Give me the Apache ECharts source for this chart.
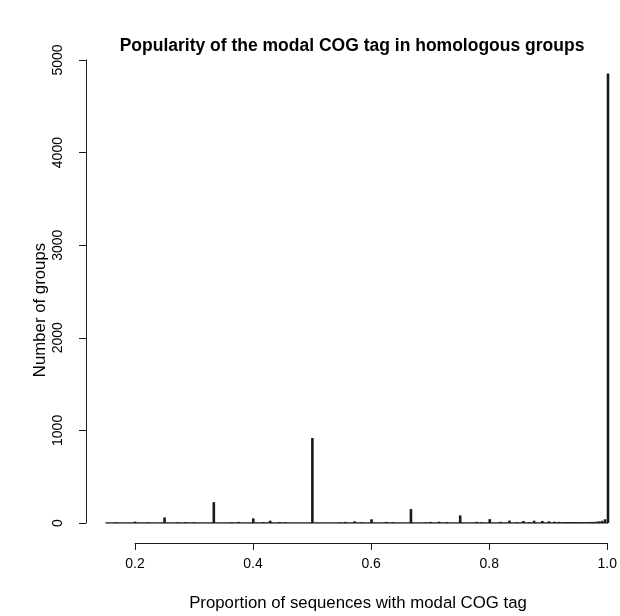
<!DOCTYPE html>
<html>
<head>
<meta charset="utf-8">
<script src="https://cdn.jsdelivr.net/npm/echarts@6/dist/echarts.min.js"></script>
<style>
html,body{margin:0;padding:0;background:#fff;}
#chart{width:620px;height:616px;}
</style>
</head>
<body>
<div id="chart"></div>
<script>
// ---- data ----
var proportions = [0.1667,0.2,0.2222,0.25,0.2727,0.2857,0.3,0.3333,0.3636,0.375,0.4,0.4167,0.4286,0.4444,0.4545,
  0.5,0.5455,0.5556,0.5714,0.5833,0.6,0.625,0.6364,0.6667,0.6923,0.7,0.7143,0.7273,0.75,0.7778,0.7857,
  0.8,0.8182,0.8333,0.8462,0.8571,0.8667,0.875,0.8889,0.9,0.9091,0.9167,0.9231,0.9286,0.9333,0.9375,
  0.9412,0.9444,0.95,0.955,0.96,0.965,0.97,0.975,0.98,0.985,0.99,0.995,1.0];
var counts = [8,15,8,60,8,10,8,225,6,12,50,10,25,10,6,
  918,6,12,18,8,40,12,8,150,8,12,14,10,82,12,8,
  42,12,26,8,22,10,25,22,18,14,12,10,10,10,10,
  10,10,10,10,10,10,12,12,14,18,24,40,4855];
var rangeStart = 0.15, rangeEnd = 1.0;
var xTicks = [0.2, 0.4, 0.6, 0.8, 1.0];
var yTicks = [0, 1000, 2000, 3000, 4000, 5000];

var titleText = 'Popularity of the modal COG tag in homologous groups';
var xLabel = 'Proportion of sequences with modal COG tag';
var yLabel = 'Number of groups';

// ---- chart ----
var ink = '#1a1a1a';
var font = 'Liberation Sans, Arial, Helvetica, sans-serif';
var barData = proportions.map(function(p, i){ return [p, counts[i]]; });

var chart = echarts.init(document.getElementById('chart'), null, {renderer:'canvas'});
chart.setOption({
  animation: false,
  backgroundColor: '#fff',
  title: [
    {
      text: titleText, left: 347, top: 32, textAlign: 'center',
      textStyle: {fontFamily: font, fontSize: 17.5, fontWeight: 'bold', color: '#000'}
    },
    {
      text: xLabel, left: 353, top: 590, textAlign: 'center',
      textStyle: {fontFamily: font, fontSize: 16.8, fontWeight: 'normal', color: '#000'}
    }
  ],
  graphic: [
    {
      type: 'text', x: 40, y: 310, rotation: Math.PI / 2,
      style: {text: yLabel, fontFamily: font, fontSize: 16.8, fill: '#000',
        textAlign: 'center', textVerticalAlign: 'middle'}
    }
  ],
  grid: [
    {left: 86, right: 3.13, top: 60, bottom: 93},
    {left: 135, right: 12, top: 542, bottom: 73}
  ],
  xAxis: [
    {
      gridIndex: 0, type: 'value', min: 0.1171, max: 1.015,
      axisLine: {show: false}, axisTick: {show: false}, axisLabel: {show: false}, splitLine: {show: false}
    },
    {
      gridIndex: 1, type: 'value', min: xTicks[0], max: xTicks[xTicks.length-1], interval: 0.2,
      axisLine: {show: true, lineStyle: {color: ink, width: 1}},
      axisTick: {show: true, length: 7, lineStyle: {color: ink, width: 1}},
      axisLabel: {show: true, margin: 14, fontFamily: font, fontSize: 14, color: '#000',
        formatter: function(v){ return v.toFixed(1); }},
      splitLine: {show: false}
    }
  ],
  yAxis: [
    {
      gridIndex: 0, type: 'value', min: yTicks[0], max: yTicks[yTicks.length-1], interval: 1000,
      axisLine: {show: true, lineStyle: {color: ink, width: 1}},
      axisTick: {show: true, length: 7, lineStyle: {color: ink, width: 1}},
      axisLabel: {show: true, rotate: 90, margin: 21, fontFamily: font, fontSize: 14, color: '#000',
        formatter: function(v){ return String(v); }},
      splitLine: {show: false}
    },
    {gridIndex: 1, type: 'value', show: false, min: 0, max: 1}
  ],
  series: [
    {
      type: 'line', xAxisIndex: 0, yAxisIndex: 0, symbol: 'none', z: 1,
      data: [[rangeStart, 0], [rangeEnd, 0]],
      lineStyle: {color: ink, width: 1.3}
    },
    {
      type: 'bar', xAxisIndex: 0, yAxisIndex: 0, barWidth: 2.6, z: 2,
      data: barData,
      itemStyle: {color: ink}
    }
  ]
});
</script>
</body>
</html>
